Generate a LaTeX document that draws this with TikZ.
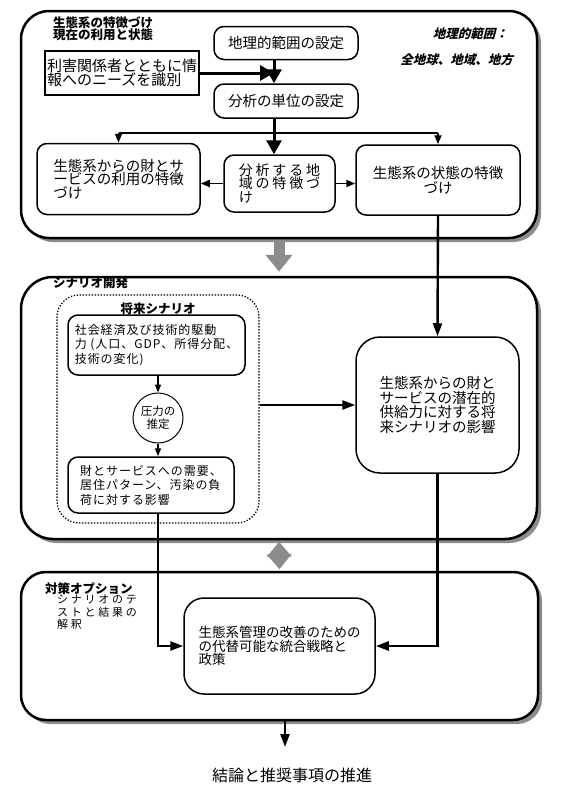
\documentclass[tikz,border=0pt]{standalone}
\usepackage{fontspec}
\setmainfont{Noto Sans CJK JP}
\newfontfamily\jpwide[LetterSpace=8]{Noto Sans CJK JP}
\newfontfamily\jpmid[LetterSpace=20]{Noto Sans CJK JP}
\newfontfamily\jpwider[LetterSpace=25]{Noto Sans CJK JP}
\newfontfamily\jpslant[FakeSlant=0.25]{Noto Sans CJK JP}
\usetikzlibrary{arrows.meta,shadows}
\newcommand{\fsz}[2]{\fontsize{#1}{#2}\selectfont\lineskiplimit=-100pt}
\tikzset{
% Three panels with a grey shadow, and the boxes inside them
panel/.style={draw,line width=2.5pt,fill=white,rounded corners=28pt,inner sep=0,
  drop shadow={shadow xshift=4pt,shadow yshift=-4pt,fill=black!45,opacity=1}},
procbox/.style={draw,line width=1.5pt,rounded corners=10pt,align=center,inner sep=0},
plainbox/.style={draw,line width=1.8pt,inner sep=1pt,align=left},
% Arrows of several weights
flow/.style={line width=2.4pt,-{Triangle[length=13pt,width=9pt]}},
big flow/.style={line width=3pt,-{Triangle[length=14pt,width=15pt]}},
small flow/.style={line width=1.8pt,-{Triangle[length=9pt,width=7pt]}},
thin flow/.style={line width=1.5pt,-{Triangle[length=8pt,width=6pt]}},
grey flow/.style={draw=black!45,line width=11pt,-{Triangle[length=17pt,width=26pt]}}
}

\begin{document}
\begin{tikzpicture}[x=1pt,y=-1pt]
      \useasboundingbox (0,0) rectangle (561,787);
      % The panels
      \node[panel,minimum width=516pt,minimum height=227pt] (p1) at (279,124.5) {};
      \node[panel,rounded corners=32pt,minimum width=516pt,minimum height=262pt] (p2) at (279,408) {};
      \node[panel,rounded corners=25pt,minimum width=517pt,minimum height=148pt] (p3) at (279.5,646) {};
      % Panel 1: characterisation
      \node[anchor=north west,inner sep=0,align=left,font=\bfseries\fsz{12.5}{12}] (t1) at (53,17)
        {生態系の特徴づけ\\現在の利用と状態};
      \node[anchor=east,inner sep=0,font=\jpslant\bfseries\fsz{12.5}{12}] (scope) at (508,34) {地理的範囲：};
      \node[anchor=east,inner sep=0,font=\jpslant\bfseries\fsz{12.5}{12}] (scales) at (513,60) {全地球、地域、地方};
      \node[procbox,minimum width=144pt,minimum height=33pt,font=\fsz{14.5}{14}] (geo) at (286,43) {地理的範囲の設定};
      \node[procbox,minimum width=144pt,minimum height=34pt,font=\fsz{14.5}{14}] (unit) at (286,101) {分析の単位の設定};
      \node[plainbox,minimum width=154pt,minimum height=44pt,font=\fsz{15}{14}] (stake) at (122,73)
        {利害関係者とともに情\\報へのニーズを識別};
      \node[procbox,align=left,minimum width=163pt,minimum height=71pt,font=\fsz{14.5}{13.5}] (use) at (118.5,179)
        {生態系からの財とサ\\ービスの利用の特徴\\づけ};
      \node[procbox,align=left,minimum width=111pt,minimum height=57pt,font=\jpmid\fsz{14}{13.5}] (area) at (279.5,183.5)
        {分析する地\\域の特徴づ\\け};
      \node[procbox,minimum width=164pt,minimum height=70pt,font=\fsz{14.5}{15}] (state) at (438,180)
        {生態系の状態の特徴\\づけ};
      % Panel 2: scenarios
      \node[anchor=north west,inner sep=0,font=\bfseries\fsz{12.5}{12}] (t2) at (53,277) {シナリオ開発};
      \node[draw,dash pattern=on 1.3pt off 1.7pt,line width=1.3pt,rounded corners=22pt,
        minimum width=202pt,minimum height=228pt] (future) at (158,409) {};
      \node[font=\bfseries\fsz{12.5}{12}] (ftitle) at (158,309) {将来シナリオ};
      \node[procbox,align=left,minimum width=177pt,minimum height=60pt,font=\jpwide\fsz{12}{14.5}] (drivers) at (156.5,345)
        {社会経済及び技術的駆動\\力 (人口、GDP、所得分配、\\技術の変化)};
      \node[draw,circle,line width=1pt,minimum size=50pt,inner sep=0,align=center,font=\fsz{11.5}{13}] (press) at (158,418)
        {圧力の\\推定};
      \node[procbox,align=left,minimum width=166pt,minimum height=56pt,font=\jpwide\fsz{12}{14.5}] (demand) at (151,485)
        {財とサービスへの需要、\\居住パターン、汚染の負\\荷に対する影響};
      \node[procbox,rounded corners=24pt,align=left,minimum width=163pt,minimum height=136pt,font=\fsz{14.5}{14.5}] (impact) at (437.5,405)
        {生態系からの財と\\サービスの潜在的\\供給力に対する将\\来シナリオの影響};
      % Panel 3: response options
      \node[anchor=north west,inner sep=0,font=\bfseries\fsz{12.5}{12}] (t3) at (45,582) {対策オプション};
      \node[anchor=north west,inner sep=0,align=left,font=\jpwider\fsz{11}{12.5}] (t3sub) at (57,595)
        {シナリオのテ\\ストと結果の\\解釈};
      \node[procbox,rounded corners=20pt,align=left,minimum width=191pt,minimum height=96pt,font=\fsz{13.5}{13.5}] (policy) at (279.5,646)
        {生態系管理の改善のための\\の代替可能な統合戦略と\\政策};
      \node[font=\fsz{16}{16}] (concl) at (292,775) {結論と推奨事項の推進};
      % Connectors in panel 1
      \coordinate (j1) at (274,73);
      \coordinate (bus) at (274,133);
      \draw[big flow] (stake.east) -- (j1);
      \draw[big flow] (geo.south -| j1) -- (unit.north -| j1);
      \draw[line width=3pt] (unit.south -| bus) -- (bus);
      \draw[line width=2.5pt] (use.north |- bus) -- (state.north |- bus);
      \draw[big flow] (bus) -- (area.north -| bus);
      \draw[small flow] (use.north |- bus) -- (use.north);
      \draw[small flow] (state.north |- bus) -- (state.north);
      \draw[small flow] (area.west) -- (area.west -| use.east);
      \draw[small flow] (area.east) -- (area.east -| state.west);
      % Between the panels
      \draw[grey flow,shorten <=1.5pt,shorten >=4pt] (p1.south) -- (p2.north);
      \draw[grey flow,{Triangle[length=15pt,width=24pt]}-{Triangle[length=15pt,width=24pt]},
        shorten <=1.5pt,shorten >=1.5pt] (p2.south) -- (p3.north);
      % Connectors in panel 2
      \draw[flow] (state.south) -- (impact.north);
      \draw[thin flow] (drivers.south -| press) -- (press.north);
      \draw[thin flow] (press.south) -- (demand.north -| press);
      \draw[flow] (future.east |- impact.west) -- (impact.west);
      % Into panel 3 and out
      \draw[flow] (demand.south -| press) |- (policy.west);
      \draw[flow] (impact.south) |- (policy.east);
      \coordinate (cend) at (285,747);
      \draw[flow] (p3.south -| cend) -- (cend);
    \end{tikzpicture}
\end{document}
